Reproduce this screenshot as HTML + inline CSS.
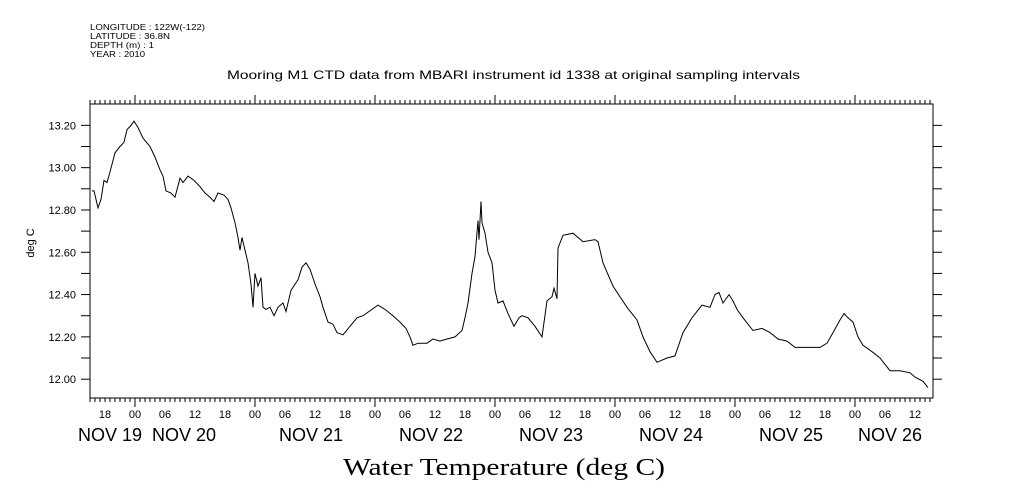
<!DOCTYPE html>
<html><head><meta charset="utf-8"><style>
body{margin:0;background:#fff;}
svg{display:block;font-family:"Liberation Sans",sans-serif;}
</style></head><body>
<svg id="chart" width="1009" height="504" viewBox="0 0 1009 504" xmlns="http://www.w3.org/2000/svg">
<g font-size="8.5" fill="#000">
<text x="90" y="30" textLength="115" lengthAdjust="spacingAndGlyphs">LONGITUDE : 122W(-122)</text>
<text x="90" y="39" textLength="80" lengthAdjust="spacingAndGlyphs">LATITUDE : 36.8N</text>
<text x="90" y="48" textLength="64" lengthAdjust="spacingAndGlyphs">DEPTH (m) : 1</text>
<text x="90" y="57" textLength="55" lengthAdjust="spacingAndGlyphs">YEAR : 2010</text>
</g>
<text x="227" y="79" textLength="573" lengthAdjust="spacingAndGlyphs" font-size="12">Mooring M1 CTD data from MBARI instrument id 1338 at original sampling intervals</text>
<text transform="translate(34,243) rotate(-90)" text-anchor="middle" font-size="11">deg C</text>
<text x="343" y="475" textLength="322" lengthAdjust="spacingAndGlyphs" font-family="'Liberation Serif',serif" font-size="24">Water Temperature (deg C)</text>
<rect x="90" y="104" width="843" height="294" fill="none" stroke="#000" stroke-width="1"/>
<g id="axes"></g>
<g id="series"></g>
</svg>
<script>
const hours=[0.4,0.8,1.6,2.2,2.8,3.4,4,5,6,6.8,7.4,8.2,8.8,9.6,10.6,12,13,14,14.6,15.2,16.2,17,18,18.6,19.6,20.8,22,23,24,24.8,25.6,26.8,27.6,28.2,29,29.6,30,30.4,31,31.6,32.2,32.6,33,33.6,34.2,34.6,35.2,36,36.8,37.6,38.6,39.2,40.2,41.6,42.4,43.2,44,45,46,46.6,47.6,48.6,49.4,50.6,52,53.4,54.6,56.4,57.6,59,60.6,62,63.2,64,64.6,65.6,67.4,68.6,70,71.4,73,74.4,75,75.6,76.4,77,77.6,77.8,78.2,78.4,79,79.6,80.4,81,81.6,82.6,83.6,84.8,85.8,86.4,87.6,89,90.4,91.4,92.4,92.8,93.4,93.6,94.6,96.6,98.6,101,101.6,102.6,104.6,107.4,109.4,110.6,112,113.4,115.4,117,118.6,120.4,122.4,124,125,125.8,126.6,127.8,128.6,129.4,130.6,131.6,132.6,134.4,136,137.6,139.4,141,142.6,144.4,146,147.4,148.6,150,150.8,151.6,152.6,153.6,154.6,156.4,158,160,162,164,165,166.6,167.6];
const temps=[12.89,12.89,12.81,12.85,12.94,12.93,12.98,13.07,13.10,13.12,13.18,13.20,13.22,13.19,13.14,13.10,13.05,12.99,12.96,12.89,12.88,12.86,12.95,12.93,12.96,12.94,12.91,12.88,12.86,12.84,12.88,12.87,12.85,12.81,12.74,12.67,12.61,12.67,12.61,12.55,12.45,12.34,12.50,12.44,12.48,12.34,12.33,12.34,12.30,12.34,12.36,12.32,12.42,12.47,12.53,12.55,12.52,12.45,12.39,12.34,12.27,12.26,12.22,12.21,12.25,12.29,12.30,12.33,12.35,12.33,12.30,12.27,12.24,12.20,12.16,12.17,12.17,12.19,12.18,12.19,12.20,12.23,12.29,12.36,12.50,12.58,12.75,12.66,12.84,12.74,12.69,12.60,12.55,12.42,12.36,12.37,12.31,12.25,12.29,12.30,12.29,12.25,12.20,12.37,12.39,12.43,12.38,12.62,12.68,12.69,12.65,12.66,12.65,12.55,12.44,12.34,12.28,12.20,12.13,12.08,12.10,12.11,12.22,12.29,12.35,12.34,12.40,12.41,12.36,12.40,12.37,12.33,12.29,12.26,12.23,12.24,12.22,12.19,12.18,12.15,12.15,12.15,12.15,12.17,12.22,12.28,12.31,12.29,12.27,12.20,12.16,12.13,12.10,12.04,12.04,12.03,12.01,11.99,11.96];
const yTickLabels=["12.00","12.20","12.40","12.60","12.80","13.00","13.20"];
const dayLabels=["NOV 19","NOV 20","NOV 21","NOV 22","NOV 23","NOV 24","NOV 25","NOV 26"];
const dayLabelHours=[4,18.8,44.2,68.2,92.2,116.2,140.2,160];
const hourLabels=["00","06","12","18"];

const X0=90,X1=933,Y0=104,Y1=398;
const H0=0,H1=168.6; // hours from Nov 19 15:00
const T0=11.911,T1=13.301;
function xs(h){return X0+(h-H0)/(H1-H0)*(X1-X0);}
function ys(t){return Y1-(t-T0)/(T1-T0)*(Y1-Y0);}
const NS="http://www.w3.org/2000/svg";
const axes=document.getElementById('axes');
function mk(tag,attrs,parent){const e=document.createElementNS(NS,tag);for(const k in attrs)e.setAttribute(k,attrs[k]);parent.appendChild(e);return e;}

for(let i=0;i<=13;i++){
  const t=12.0+i*0.1-0.1; if(t<T0||t>T1)continue;
  const y=ys(t);
  const l=mk('line',{x1:X0-9,x2:X0,y1:y,y2:y,stroke:'#000'},axes);
  
  
  const r=mk('line',{x1:X1,x2:X1+9,y1:y,y2:y,stroke:'#000'},axes);
  
  
}
yTickLabels.forEach(s=>{
  const tx=mk('text',{x:X0-14,y:ys(parseFloat(s))+4,'text-anchor':'end','font-size':'11'},axes);
  tx.textContent=s;
  
  
});
for(let h=0;h<=168;h++){
  const x=xs(h);
  const clock=(15+h)%24;
  const major=clock===0;
  const t=mk('line',{x1:x,x2:x,y1:Y0-(major?9:4),y2:Y0,stroke:'#000'},axes);
  
  
  const b=mk('line',{x1:x,x2:x,y1:Y1,y2:Y1+(major?9:4),stroke:'#000'},axes);
  
  
  if(clock%6===0){
    const tx=mk('text',{x:x,y:Y1+20,'text-anchor':'middle','font-size':'11'},axes);
    tx.textContent=hourLabels[clock/6];
    
    
  }
}
dayLabels.forEach((s,i)=>{
  const tx=mk('text',{x:xs(dayLabelHours[i]),y:Y1+43,'font-size':'18','text-anchor':'middle'},axes);
  tx.textContent=s;
  
  
});
const pts=hours.map((h,i)=>xs(h).toFixed(1)+','+ys(temps[i]).toFixed(1)).join(' ');
const pl=mk('polyline',{points:pts,fill:'none',stroke:'#000','stroke-width':'1'},document.getElementById('series'));


</script>
</body></html>
